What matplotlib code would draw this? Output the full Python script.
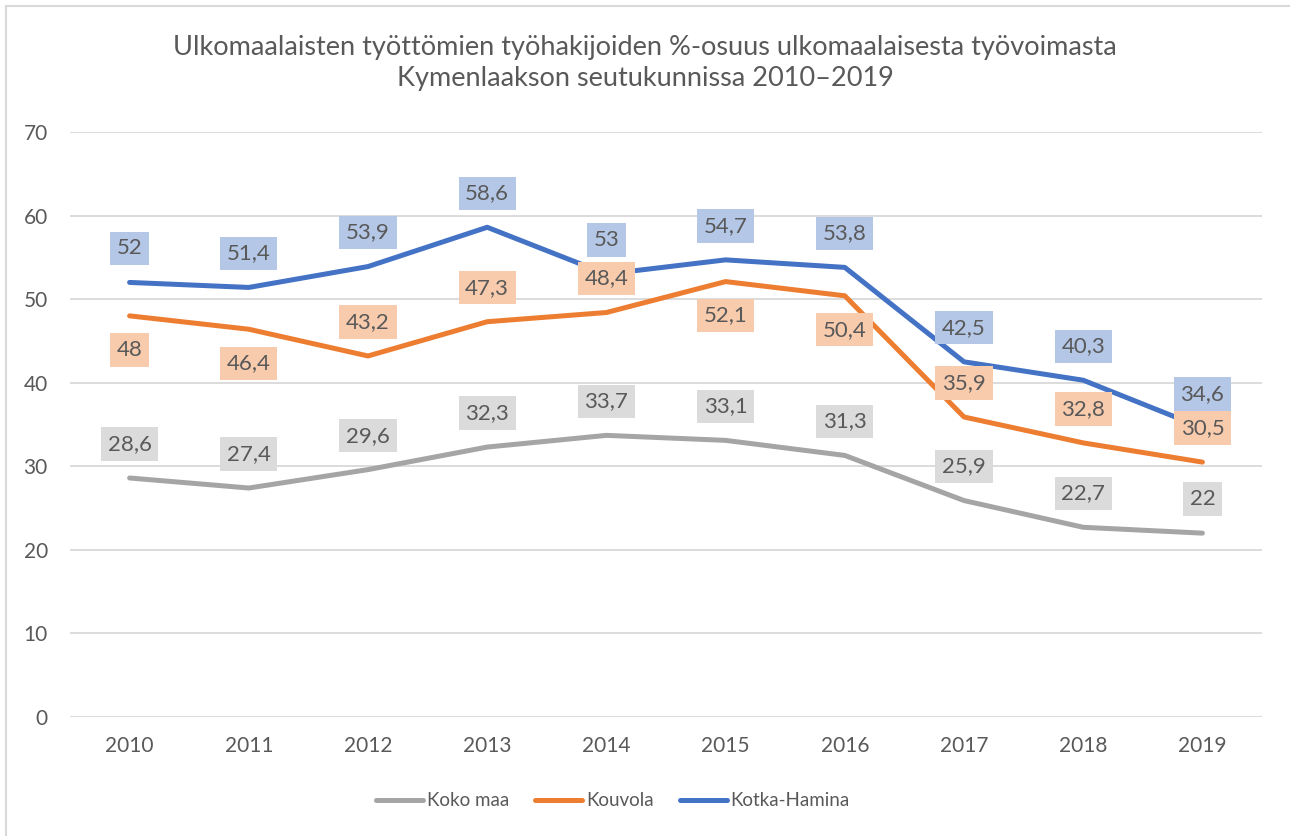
import matplotlib
matplotlib.use("Agg")
import matplotlib.pyplot as plt
from matplotlib.lines import Line2D

years = ["2010", "2011", "2012", "2013", "2014", "2015", "2016", "2017", "2018", "2019"]
koko_maa = [28.6, 27.4, 29.6, 32.3, 33.7, 33.1, 31.3, 25.9, 22.7, 22.0]
kouvola = [48.0, 46.4, 43.2, 47.3, 48.4, 52.1, 50.4, 35.9, 32.8, 30.5]
kotka_hamina = [52.0, 51.4, 53.9, 58.6, 53.0, 54.7, 53.8, 42.5, 40.3, 34.6]

# label placement: +1 above the point, -1 below
pos_koko = [1] * 10
pos_kouv = [-1, -1, 1, 1, 1, -1, -1, 1, 1, 1]
pos_kotka = [1] * 10

TXT = "#595959"
GRID = "#D9D9D9"
series = [
    ("Koko maa", koko_maa, pos_koko, "#A5A5A5", "#DBDBDB"),
    ("Kouvola", kouvola, pos_kouv, "#ED7D31", "#F8CBAD"),
    ("Kotka-Hamina", kotka_hamina, pos_kotka, "#4472C4", "#B4C7E7"),
]

plt.rcParams["font.family"] = ["Lato", "DejaVu Sans"]

W, H = 1290, 836
fig = plt.figure(figsize=(W / 100, H / 100), dpi=100)
ax = fig.add_axes([70 / W, (H - 717) / H, 1192 / W, 585 / H])

x = list(range(len(years)))
for name, vals, pos, col, box in series:
    ax.plot(x, vals, color=col, linewidth=3.6, solid_capstyle="round",
            solid_joinstyle="round", zorder=3)

for name, vals, pos, col, box in series:
    for xi, v, p in zip(x, vals, pos):
        lab = f"{v:g}".replace(".", ",")
        ax.annotate(lab, (xi, v), xytext=(0, 34 * p), textcoords="offset pixels",
                    ha="center", va="center", fontsize=16, color=TXT, zorder=5,
                    bbox=dict(boxstyle="square,pad=0.3", fc=box, ec="none"))

ax.set_xlim(-0.5, len(years) - 0.5)
ax.set_ylim(0, 70)
ax.set_yticks(range(0, 71, 10))
ax.set_xticks(x)
ax.set_xticklabels(years)
ax.grid(axis="y", color=GRID, linewidth=1.3, zorder=0)
ax.set_axisbelow(True)
for s in ax.spines.values():
    s.set_visible(False)
ax.tick_params(length=0, labelsize=15, labelcolor=TXT)
ax.tick_params(axis="y", pad=16)
ax.tick_params(axis="x", pad=14)

fig.text(0.5, 1 - 63 / H,
         "Ulkomaalaisten työttömien työhakijoiden %-osuus ulkomaalaisesta työvoimasta\n"
         "Kymenlaakson seutukunnissa 2010–2019",
         ha="center", va="center", fontsize=19.5, color=TXT, linespacing=1.32)

handles = [Line2D([], [], color=c, linewidth=3.6, solid_capstyle="round")
           for _, _, _, c, _ in series]
fig.legend(handles, [s[0] for s in series], loc="center", ncol=3,
           bbox_to_anchor=(0.475, 1 - 801 / H), frameon=False, fontsize=13.5,
           labelcolor=TXT, handlelength=2.5, handletextpad=0.2, columnspacing=1.4)

# chart-area border (left and top edges visible)
fig.add_artist(Line2D([6 / W, 6 / W], [0, 1 - 6 / H], color=GRID, linewidth=1.5))
fig.add_artist(Line2D([6 / W, 1], [1 - 6 / H, 1 - 6 / H], color=GRID, linewidth=1.5))

fig.savefig("out.png", dpi=100)
